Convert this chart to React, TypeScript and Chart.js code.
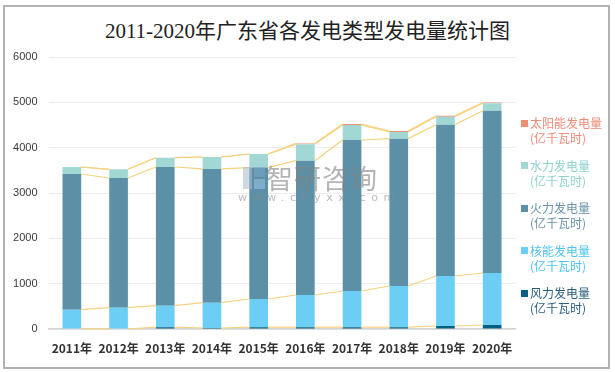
import React, { useEffect, useRef } from "react";
import { Chart, registerables } from "chart.js";

Chart.register(...registerables);

const title = "2011-2020年广东省各发电类型发电量统计图";
const years = ["2011年", "2012年", "2013年", "2014年", "2015年", "2016年", "2017年", "2018年", "2019年", "2020年"];
const windPower = [0, 0, 40, 22, 40, 40, 40, 40, 66, 88];
const nuclearPower = [426, 470, 474, 558, 622, 710, 798, 909, 1103, 1147];
const thermalPower = [2993, 2861, 3060, 2950, 2898, 2963, 3331, 3250, 3338, 3581];
const hydroPower = [155, 192, 205, 264, 300, 361, 331, 147, 177, 163];
const solarPower = [0, 0, 0, 0, 0, 20, 20, 20, 18, 18];
const yTicks = [0, 1000, 2000, 3000, 4000, 5000, 6000];

const seriesNames = ["风力发电量", "核能发电量", "火力发电量", "水力发电量", "太阳能发电量"];
const unit = "(亿千瓦时)";
const colors = ["#055F80", "#6CCEF5", "#5B90A6", "#A2D8D4", "#EE8E74"];
const legendTextColors = ["#2B5F7E", "#4FC2F0", "#6A93A8", "#8CD3CE", "#F08A78"];

const seriesLinesPlugin = {
  id: "seriesLines",
  afterDatasetsDraw(chart: any) {
    const ctx = chart.ctx;
    ctx.save();
    ctx.strokeStyle = "#F7D27E";
    ctx.lineWidth = 1.2;
    chart.data.datasets.forEach((_: any, i: number) => {
      const els = chart.getDatasetMeta(i).data;
      for (let j = 0; j < els.length - 1; j++) {
        const a = els[j].getProps(["x", "y", "width"], true);
        const b = els[j + 1].getProps(["x", "y", "width"], true);
        ctx.beginPath();
        ctx.moveTo(a.x + a.width / 2, a.y);
        ctx.lineTo(b.x - b.width / 2, b.y);
        ctx.stroke();
      }
    });
    ctx.restore();
  },
};

export default function App() {
  const ref = useRef<HTMLCanvasElement | null>(null);

  useEffect(() => {
    document.body.style.margin = "0";
    const series = [windPower, nuclearPower, thermalPower, hydroPower, solarPower];
    const chart = new Chart(ref.current as HTMLCanvasElement, {
      type: "bar",
      data: {
        labels: years,
        datasets: series.map((d, i) => ({
          label: seriesNames[i] + unit,
          data: d,
          backgroundColor: colors[i],
          borderWidth: 0,
          barPercentage: 0.4,
          categoryPercentage: 1,
        })),
      },
      options: {
        animation: false,
        responsive: false,
        events: [],
        layout: { padding: { top: 57, right: 99.5, left: 0, bottom: 0 } },
        plugins: {
          legend: { display: false },
          title: { display: false },
          tooltip: { enabled: false },
        },
        scales: {
          x: {
            stacked: true,
            grid: { display: false, drawTicks: false },
            border: { display: true, color: "#D4D4D4", width: 1.5 },
            ticks: {
              padding: 12,
              color: "#333333",
              font: { family: "'Noto Sans CJK SC', sans-serif", size: 12, weight: "bold" },
            },
            afterFit(scale: any) {
              scale.height = 43;
            },
          },
          y: {
            stacked: true,
            min: 0,
            max: 6000,
            afterBuildTicks(scale: any) {
              scale.ticks = yTicks.map((v) => ({ value: v }));
            },
            grid: { color: "#EDEDED", lineWidth: 1, drawTicks: false },
            border: { display: false },
            ticks: {
              padding: 11,
              color: "#3A3A3A",
              font: { family: "'Liberation Sans', sans-serif", size: 11 },
              callback: (v: any) => String(v),
            },
            afterFit(scale: any) {
              scale.width = 48.5;
            },
          },
        },
      },
      plugins: [seriesLinesPlugin],
    } as any);
    return () => chart.destroy();
  }, []);

  const legendOrder = [4, 3, 2, 1, 0];

  return (
    <div style={{ position: "relative", width: 615, height: 372, background: "#fff", overflow: "hidden" }}>
      <div
        style={{
          position: "absolute",
          left: 3,
          top: 5,
          width: 603,
          height: 360,
          border: "2px solid #B2B2B2",
        }}
      />
      <div
        style={{
          position: "absolute",
          left: 0,
          top: 16,
          width: 615,
          textAlign: "center",
          fontFamily: "'Liberation Serif', 'Noto Sans CJK SC', serif",
          fontSize: 21,
          lineHeight: "30px",
          color: "#222",
        }}
      >
        {title}
      </div>
      <canvas ref={ref} width={615} height={372} style={{ position: "absolute", left: 0, top: 0 }} />
      {/* watermark */}
      <div style={{ position: "absolute", left: 243, top: 167, pointerEvents: "none", opacity: 0.55 }}>
        <div style={{ position: "absolute", left: 0, top: 0, width: 9, height: 22, background: "#A9B8CC" }} />
        <div style={{ position: "absolute", left: 11, top: 0, width: 11, height: 10, background: "#7FA6CC" }} />
        <div style={{ position: "absolute", left: 11, top: 12, width: 11, height: 10, background: "#9DC3E6" }} />
      </div>
      <div
        style={{
          position: "absolute",
          left: 266,
          top: 160,
          fontFamily: "'Noto Sans CJK SC', sans-serif",
          fontSize: 27,
          lineHeight: "36px",
          color: "rgba(130,130,130,0.6)",
          pointerEvents: "none",
          letterSpacing: 1,
        }}
      >
        智研咨询
      </div>
      <div
        style={{
          position: "absolute",
          left: 238,
          top: 191,
          fontFamily: "'DejaVu Sans', sans-serif",
          fontSize: 11,
          lineHeight: "14px",
          color: "rgba(140,140,140,0.6)",
          letterSpacing: 5.6,
          pointerEvents: "none",
        }}
      >
        www.chyxx.com
      </div>
      {legendOrder.map((idx, k) => (
        <div
          key={idx}
          style={{
            position: "absolute",
            left: 521,
            top: 115 + k * 42.5,
            fontFamily: "'Noto Sans CJK SC', sans-serif",
            fontSize: 12,
            lineHeight: "15px",
            color: legendTextColors[idx],
          }}
        >
          <div style={{ position: "absolute", left: 0, top: 4.5, width: 7, height: 7, background: colors[idx] }} />
          <div style={{ marginLeft: 9, whiteSpace: "nowrap" }}>
            <div>{seriesNames[idx]}</div>
            <div>{unit}</div>
          </div>
        </div>
      ))}
    </div>
  );
}
